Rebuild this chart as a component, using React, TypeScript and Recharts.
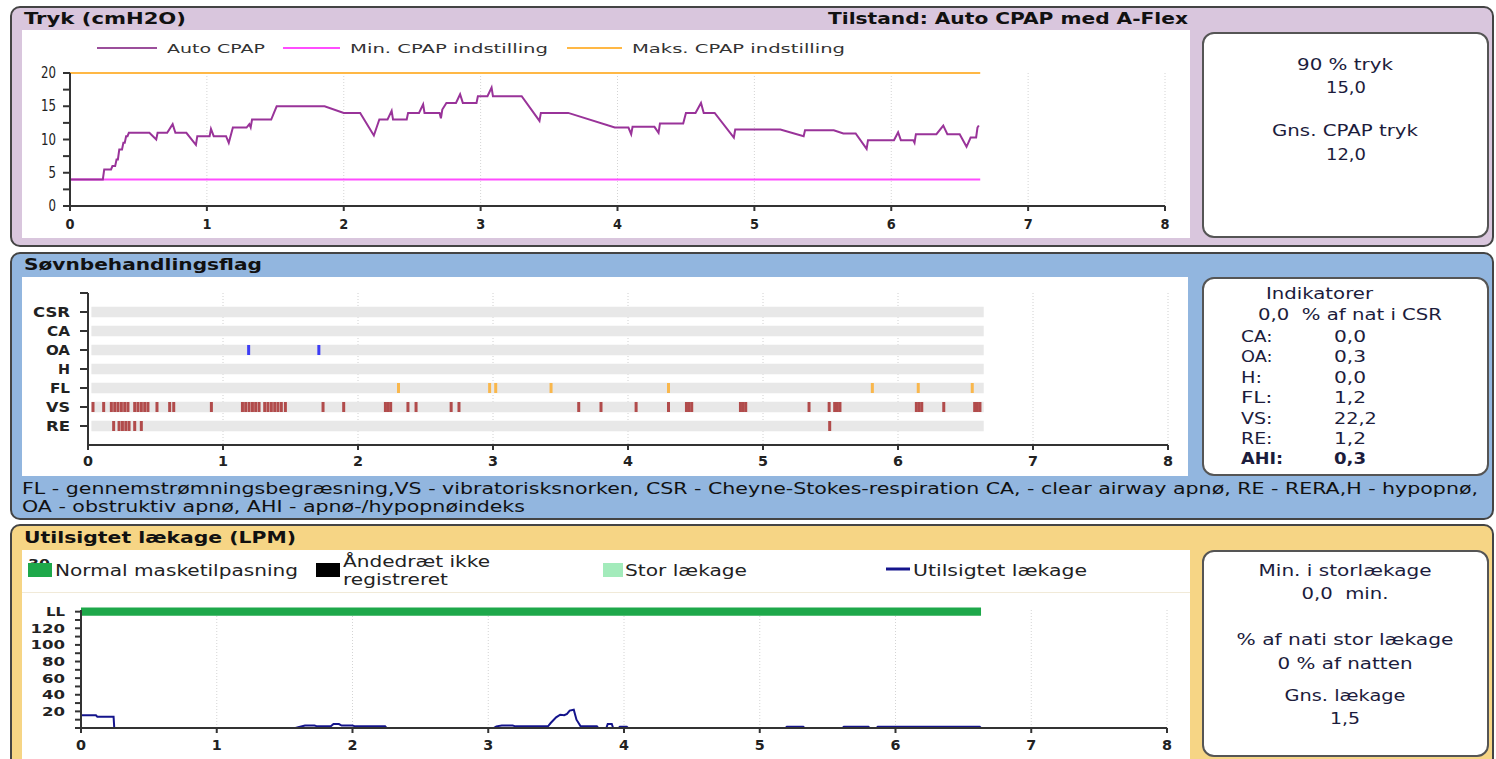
import React from 'react';
import {
  CartesianGrid,
  Line,
  LineChart,
  ReferenceArea,
  Scatter,
  ScatterChart,
  XAxis,
  YAxis,
} from 'recharts';

const FONT = "'DejaVu Sans', Verdana, sans-serif";

// --- Tryk (cmH2O): hours since start, pressure
const pressureHours = [
  0, 0.24, 0.25, 0.3, 0.31, 0.33, 0.34, 0.35, 0.36, 0.38, 0.39, 0.4, 0.41, 0.42, 0.43, 0.58, 0.63,
  0.64, 0.71, 0.75, 0.77, 0.85, 0.92, 0.93, 1.02, 1.03, 1.05, 1.14, 1.16, 1.19, 1.29, 1.31, 1.32,
  1.33, 1.47, 1.49, 1.51, 1.86, 2.0, 2.12, 2.22, 2.24, 2.26, 2.32, 2.35, 2.36, 2.46, 2.47, 2.55,
  2.58, 2.59, 2.7, 2.71, 2.72, 2.75, 2.82, 2.85, 2.87, 2.97, 2.98, 3.05, 3.08, 3.09, 3.3, 3.43,
  3.44, 3.64, 3.98, 4.08, 4.1, 4.11, 4.27, 4.3, 4.31, 4.48, 4.5, 4.57, 4.61, 4.63, 4.71, 4.85,
  4.86, 5.19, 5.36, 5.37, 5.58, 5.65, 5.74, 5.82, 5.83, 6.02, 6.05, 6.07, 6.16, 6.17, 6.18, 6.33,
  6.38, 6.41, 6.5, 6.55, 6.58, 6.62, 6.63, 6.64,
];
const pressureValues = [
  4, 4, 5.5, 5.5, 6, 6, 7, 7, 8.5, 8.5, 9.5, 9.5, 10.5, 10.5, 11, 11, 10, 11, 11, 12.3, 11, 11,
  9.2, 10.5, 10.5, 11.6, 10.5, 10.5, 9.5, 11.8, 11.8, 12.3, 11.8, 13, 13, 14, 15, 15, 14, 14,
  10.6, 11.8, 13, 13, 14.3, 13, 13, 14, 14, 15.3, 14, 14, 13.2, 14.5, 15.5, 15.5, 16.8, 15.5,
  15.5, 16.5, 16.5, 17.8, 16.5, 16.5, 12.8, 14, 14, 11.8, 11.8, 10.8, 11.9, 11.9, 11, 12.4, 12.4,
  14, 14, 15.5, 14, 14, 10.3, 11.5, 11.5, 10.5, 11.4, 11.4, 10.9, 10.9, 8.6, 9.9, 9.9, 11.1, 9.9,
  9.9, 9.5, 10.8, 10.8, 12.1, 10.8, 10.8, 8.9, 10.3, 10.3, 11.8, 12.1,
];
const recordEnd = 6.65;
const minCpap = 4;
const maxCpap = 20;
const pressureTicksY = [0, 2.5, 5, 7.5, 10, 12.5, 15, 17.5, 20];
const hourTicks = [0, 1, 2, 3, 4, 5, 6, 7, 8];

// --- Søvnbehandlingsflag: event times in hours
const flagRows = ['RE', 'VS', 'FL', 'H', 'OA', 'CA', 'CSR'];
const oaEvents = [1.19, 1.71];
const flEvents = [2.3, 2.975, 3.02, 3.43, 4.3, 5.81, 6.15, 6.55];
const vsEvents = [
  0.037, 0.116, 0.173, 0.198, 0.222, 0.247, 0.272, 0.296, 0.346, 0.37, 0.395, 0.42, 0.444, 0.511,
  0.605, 0.635, 0.914, 1.144, 1.168, 1.193, 1.218, 1.242, 1.267, 1.309, 1.333, 1.358, 1.383,
  1.407, 1.432, 1.462, 1.741, 1.894, 2.203, 2.222, 2.242, 2.37, 2.43, 2.69, 2.748, 3.635, 3.8,
  4.06, 4.3, 4.433, 4.452, 4.472, 4.833, 4.852, 4.872, 5.341, 5.49, 5.531, 5.551, 5.57, 6.136,
  6.156, 6.176, 6.339, 6.568, 6.588, 6.607,
];
const reEvents = [0.19, 0.23, 0.255, 0.28, 0.304, 0.346, 0.395, 5.494];

// --- Utilsigtet lækage (LPM)
const leakHours = [
  0, 0.11, 0.12, 0.24, 0.245, 1.58, 1.6, 1.65, 1.72, 1.74, 1.84, 1.86, 1.9, 1.92, 2.0, 2.02, 2.24,
  2.25, 3.04, 3.06, 3.1, 3.18, 3.2, 3.44, 3.46, 3.5, 3.53, 3.56, 3.58, 3.6, 3.63, 3.65, 3.67,
  3.68, 3.8, 3.81, 3.87, 3.88, 3.91, 3.92, 3.96, 3.97, 4.02, 4.03, 5.19, 5.2, 5.32, 5.33, 5.61,
  5.62, 5.8, 5.81, 5.86, 5.87, 6.62, 6.63,
];
const leakValues = [
  15.2, 15.2, 13.6, 13.6, 0, 0, 1, 3, 3, 2, 2, 4.8, 4.8, 3, 3, 2, 2, 0, 0, 2, 3, 3, 2, 2, 6, 12.8,
  16, 15.5, 17, 21, 22, 10, 4.8, 2, 2, 0, 0, 4.8, 4.8, 0, 0, 1.5, 1.5, 0, 0, 1.5, 1.5, 0, 0, 1.5,
  1.5, 0, 0, 1.5, 1.5, 0,
];
const leakTicksY = [0, 10, 20, 30, 40, 50, 60, 70, 80, 90, 100, 110, 120, 130, 140];

// --- side boxes
const pressureStats = ['90 % tryk', '15,0', 'Gns. CPAP tryk', '12,0'];
const indicatorLabels = ['CA:', 'OA:', 'H:', 'FL:', 'VS:', 'RE:', 'AHI:'];
const indicatorValues = ['0,0', '0,3', '0,0', '1,2', '22,2', '1,2', '0,3'];
const leakStats = ['Min. i storlækage', '0,0  min.', '% af nati stor lækage', '0 % af natten', 'Gns. lækage', '1,5'];

const pressureData = pressureHours.map((h, i) => ({ h, v: pressureValues[i] }));
const minData = [{ h: 0, v: minCpap }, { h: recordEnd, v: minCpap }];
const maxData = [{ h: 0, v: maxCpap }, { h: recordEnd, v: maxCpap }];
const leakData = leakHours.map((h, i) => ({ h, v: leakValues[i] }));
const rowOf = (name: string) => flagRows.indexOf(name) + 1;
const events = (list: number[], name: string) => list.map((h) => ({ h, row: rowOf(name) }));

const axisStyle = { stroke: '#333', strokeWidth: 2 };
const flagLabelW: Record<string, number> = { CSR: 37, CA: 23, OA: 24, H: 12, FL: 20, VS: 24, RE: 24 };

function T({ x, y, w, s = 15, b = false, a = 'start', c = '#1c1c3c', children }: any) {
  return (
    <text
      x={x}
      y={y}
      fontSize={s}
      fontWeight={b ? 'bold' : 'normal'}
      textAnchor={a}
      fill={c}
      fontFamily={FONT}
      textLength={w}
      lengthAdjust="spacingAndGlyphs"
      xmlSpace="preserve"
    >
      {children}
    </text>
  );
}

// tick renderer: label text, forced width, font size, weight, baseline offset
function tick(
  fmt: (v: number) => string,
  width: (s: string) => number,
  size: number,
  bold: boolean,
  off: number,
  anchor: 'end' | 'middle',
) {
  return (p: any) => {
    const label = fmt(p.payload.value);
    if (!label) return <g />;
    return (
      <T x={p.x} y={p.y + off} w={width(label)} s={size} b={bold} a={anchor} c="#222">
        {label}
      </T>
    );
  };
}

const box = (left: number, top: number, width: number, height: number, extra: any = {}) => ({
  position: 'absolute' as const,
  left,
  top,
  width,
  height,
  boxSizing: 'border-box' as const,
  ...extra,
});

function Mark(color: string) {
  return (p: any) => <rect x={p.cx - 1.5} y={p.cy - 5} width={3} height={10} fill={color} />;
}

export default function App() {
  return (
    <div style={box(0, 0, 1496, 759, { overflow: 'hidden', background: '#fff', fontFamily: FONT })}>
      {/* panels */}
      <div style={box(10, 6, 1484, 241, { background: '#d9c6dd', border: '2px solid #444', borderRadius: 10 })} />
      <div style={box(10, 252, 1484, 268, { background: '#92b6df', border: '2px solid #444', borderRadius: 10 })} />
      <div style={box(10, 524, 1484, 250, { background: '#f6d585', border: '2px solid #444', borderRadius: 10 })} />
      <div style={box(22, 30, 1168, 208, { background: '#fff' })} />
      <div style={box(22, 277, 1166, 199, { background: '#fff' })} />
      <div style={box(22, 550, 1168, 215, { background: '#fff' })} />
      <div style={box(22, 592, 1168, 1, { background: '#f1ead8' })} />
      <div style={box(1202, 32, 287, 206, { background: '#fff', border: '2px solid #555', borderRadius: 12 })} />
      <div style={box(1202, 277, 287, 199, { background: '#fff', border: '2px solid #555', borderRadius: 12 })} />
      <div style={box(1202, 550, 287, 207, { background: '#fff', border: '2px solid #555', borderRadius: 12 })} />

      {/* Tryk */}
      <div style={box(22, 60, 1168, 178)}>
        <LineChart width={1168} height={178} margin={{ top: 13, right: 25, bottom: 2, left: 8 }}>
          <CartesianGrid vertical horizontal={false} stroke="#d4d4d4" strokeDasharray="1 2" />
          <XAxis
            type="number"
            dataKey="h"
            domain={[0, 8]}
            ticks={hourTicks}
            interval={0}
            height={30}
            axisLine={axisStyle}
            tickLine={axisStyle}
            tickSize={5}
            tickMargin={2}
            tick={tick((v) => String(v), () => 9, 14, true, 16, 'middle')}
          />
          <YAxis
            type="number"
            dataKey="v"
            domain={[0, 20]}
            ticks={pressureTicksY}
            interval={0}
            width={40}
            axisLine={axisStyle}
            tickLine={axisStyle}
            tickSize={7}
            tickMargin={7}
            tick={tick((v) => (v % 5 === 0 ? String(v) : ''), (s) => s.length * 7.5, 15, false, 5, 'end')}
          />
          <Line data={maxData} dataKey="v" stroke="#ffb845" strokeWidth={2} dot={false} isAnimationActive={false} />
          <Line data={minData} dataKey="v" stroke="#ff4dff" strokeWidth={2} dot={false} isAnimationActive={false} />
          <Line data={pressureData} dataKey="v" type="linear" stroke="#993399" strokeWidth={2} dot={false} isAnimationActive={false} />
        </LineChart>
      </div>

      {/* Søvnbehandlingsflag */}
      <div style={box(22, 280, 1166, 195)}>
        <ScatterChart width={1166} height={195} margin={{ top: 13, right: 20, bottom: 2, left: 16 }}>
          {flagRows.map((r) => (
            <ReferenceArea
              key={r}
              x1={0.025}
              x2={6.635}
              y1={rowOf(r) - 0.27}
              y2={rowOf(r) + 0.27}
              fill="#e8e8e8"
              fillOpacity={1}
              stroke="none"
            />
          ))}
          <CartesianGrid vertical horizontal={false} stroke="#d0d0d0" strokeDasharray="1 2" />
          <XAxis
            type="number"
            dataKey="h"
            domain={[0, 8]}
            ticks={hourTicks}
            interval={0}
            height={28}
            axisLine={axisStyle}
            tickLine={axisStyle}
            tickSize={5}
            tickMargin={2}
            tick={tick((v) => String(v), () => 10, 14, true, 14, 'middle')}
          />
          <YAxis
            type="number"
            dataKey="row"
            domain={[0, 8]}
            ticks={[1, 2, 3, 4, 5, 6, 7, 8]}
            interval={0}
            width={50}
            axisLine={axisStyle}
            tickLine={axisStyle}
            tickSize={8}
            tickMargin={10}
            tick={tick((v) => flagRows[v - 1] ?? '', (s) => flagLabelW[s] ?? 20, 14, true, 5, 'end')}
          />
          <Scatter data={events(vsEvents, 'VS')} shape={Mark('#b14b4b')} isAnimationActive={false} />
          <Scatter data={events(reEvents, 'RE')} shape={Mark('#b14b4b')} isAnimationActive={false} />
          <Scatter data={events(flEvents, 'FL')} shape={Mark('#f9b74c')} isAnimationActive={false} />
          <Scatter data={events(oaEvents, 'OA')} shape={Mark('#3c3cf5')} isAnimationActive={false} />
        </ScatterChart>
      </div>

      {/* Utilsigtet lækage */}
      <div style={box(22, 597, 1168, 162)}>
        <LineChart width={1168} height={162} margin={{ top: 13, right: 23, bottom: 3, left: 14 }}>
          <CartesianGrid vertical horizontal={false} stroke="#d4d4d4" strokeDasharray="1 2" />
          <ReferenceArea x1={0} x2={6.63} y1={135} y2={145} fill="#1ea84a" fillOpacity={1} stroke="none" ifOverflow="visible" />
          <XAxis
            type="number"
            dataKey="h"
            domain={[0, 8]}
            ticks={hourTicks}
            interval={0}
            height={28}
            axisLine={axisStyle}
            tickLine={axisStyle}
            tickSize={5}
            tickMargin={2}
            tick={tick((v) => String(v), () => 10, 14, true, 15, 'middle')}
          />
          <YAxis
            type="number"
            dataKey="v"
            domain={[0, 142]}
            ticks={leakTicksY}
            interval={0}
            width={45}
            axisLine={axisStyle}
            tickLine={axisStyle}
            tickSize={6}
            tickMargin={10}
            tick={tick(
              (v) => (v === 140 ? 'LL' : v > 0 && v % 20 === 0 ? String(v) : ''),
              (s) => (s === 'LL' ? 19 : s.length * 11.5),
              12,
              true,
              4.5,
              'end',
            )}
          />
          <Line data={leakData} dataKey="v" type="linear" stroke="#14148c" strokeWidth={2} dot={false} isAnimationActive={false} />
        </LineChart>
      </div>

      {/* texts and legends */}
      <svg width={1496} height={759} style={{ position: 'absolute', left: 0, top: 0, pointerEvents: 'none' }}>
        <T x={24} y={24} w={162} s={15} b c="#111">Tryk (cmH2O)</T>
        <T x={828} y={24} w={360} s={15} b c="#111">Tilstand: Auto CPAP med A-Flex</T>
        <line x1={97} x2={157} y1={48} y2={48} stroke="#9b4f9b" strokeWidth={2} />
        <T x={167} y={53} w={98} s={13} c="#333">Auto CPAP</T>
        <line x1={283} x2={340} y1={48} y2={48} stroke="#ff4dff" strokeWidth={2} />
        <T x={350} y={53} w={198} s={13} c="#333">Min. CPAP indstilling</T>
        <line x1={567} x2={622} y1={48} y2={48} stroke="#ffb845" strokeWidth={2} />
        <T x={632} y={53} w={213} s={13} c="#333">Maks. CPAP indstilling</T>

        <T x={1345} y={70} w={96} a="middle">{pressureStats[0]}</T>
        <T x={1346} y={93} w={40} a="middle">{pressureStats[1]}</T>
        <T x={1345} y={136} w={146} a="middle">{pressureStats[2]}</T>
        <T x={1346} y={160} w={40} a="middle">{pressureStats[3]}</T>

        <T x={24} y={270} w={238} s={15} b c="#111">Søvnbehandlingsflag</T>
        <T x={1266} y={299} w={107}>Indikatorer</T>
        <T x={1258} y={320} w={184}>0,0  % af nat i CSR</T>
        {indicatorLabels.map((l, i) => (
          <T key={l} x={1241} y={342 + i * 20.4} w={l.length * 10.5} b={l === 'AHI:'}>{l}</T>
        ))}
        {indicatorValues.map((v, i) => (
          <T key={i} x={1334} y={342 + i * 20.4} w={v.length * 10.7} b={i === 6}>{v}</T>
        ))}
        <T x={22} y={494} w={1456} c="#111">
          FL - gennemstrømningsbegræsning,VS - vibratorisksnorken, CSR - Cheyne-Stokes-respiration CA, - clear airway apnø, RE - RERA,H - hypopnø,
        </T>
        <T x={22} y={512} w={503} c="#111">OA - obstruktiv apnø, AHI - apnø-/hypopnøindeks</T>

        <T x={24} y={543} w={272} s={15} b c="#111">Utilsigtet lækage (LPM)</T>
        <T x={28} y={568} w={22} s={13} b c="#222">30</T>
        <rect x={28} y={563} width={24} height={14} fill="#1ea84a" />
        <T x={55} y={576} w={243} s={16} c="#222">Normal masketilpasning</T>
        <rect x={316} y={563} width={24} height={14} fill="#000" />
        <T x={343} y={567} w={147} s={16} c="#222">Åndedræt ikke</T>
        <T x={343} y={585} w={105} s={16} c="#222">registreret</T>
        <rect x={603} y={563} width={20} height={14} fill="#a3ebbb" />
        <T x={625} y={576} w={122} s={16} c="#222">Stor lækage</T>
        <line x1={886} x2={910} y1={569} y2={569} stroke="#14148c" strokeWidth={3} />
        <T x={913} y={576} w={174} s={16} c="#222">Utilsigtet lækage</T>

        <T x={1345} y={576} w={173} a="middle">{leakStats[0]}</T>
        <T x={1345} y={599} w={87} a="middle">{leakStats[1]}</T>
        <T x={1345} y={645} w={217} a="middle">{leakStats[2]}</T>
        <T x={1345} y={669} w={135} a="middle">{leakStats[3]}</T>
        <T x={1345} y={701} w={121} a="middle">{leakStats[4]}</T>
        <T x={1345} y={724} w={30} a="middle">{leakStats[5]}</T>
      </svg>
    </div>
  );
}
